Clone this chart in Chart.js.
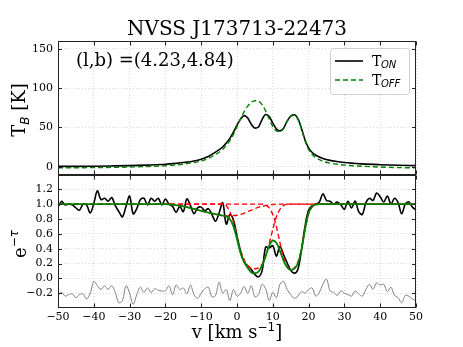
<!DOCTYPE html>
<html>
<head>
<meta charset="utf-8">
<script src="https://cdn.jsdelivr.net/npm/chart.js@4.4.0/dist/chart.umd.min.js"></script>
<style>
  html, body { margin: 0; padding: 0; background: #fff; }
  #wrap { width: 463px; height: 347px; }
</style>
</head>
<body>
<div id="wrap"><canvas id="hiChart" width="463" height="347"></canvas></div>
<script>
// --- emission panel (T_B, K) ---
const velTb = [-50, -45, -40, -35, -30, -25, -20, -17, -15, -12, -10, -8, -6, -4, -3, -2, -1, 0, 1, 2, 3, 4, 5, 6, 7, 8, 9, 10,
  11, 12, 13, 14, 15, 16, 17, 18, 19, 20, 21, 22, 24, 26, 28, 30, 35, 40, 45, 50];
const tOn = [0.3, 0.4, 0.6, 0.9, 1.3, 2.0, 3.0, 4.2, 5.2, 7.2, 9.5, 13, 18.5, 25, 30, 36, 44, 53, 60.5, 65, 62, 54, 49, 50.5, 60, 66.5, 64, 55.5,
  48, 45.5, 49, 58, 64.5, 66, 61, 49, 34, 24, 18, 14.5, 10.5, 8, 6.5, 5.2, 3.5, 2.5, 1.8, 1.3];
const tOff = [-1.5, -1.4, -1.2, -0.9, -0.5, 0.2, 1.2, 2.2, 3.2, 5.2, 7.2, 10.5, 15.5, 22, 27, 33, 41, 51, 61, 70, 77, 82, 84, 83.5, 79, 71, 60.5, 51,
  45.5, 44.5, 48.5, 57.5, 64, 65.5, 60.5, 48, 33, 22, 15.5, 11.5, 6.8, 4.5, 3, 2, 0.5, -0.5, -1.2, -1.5];

// --- absorption panel (e^-tau) ---
const velAbs = [-50, -49, -48, -47, -46, -45, -44, -43, -42, -41, -40, -39, -38, -37, -36, -35, -34, -33, -32, -31,
  -30, -29, -28, -27, -26, -25, -24, -23, -22, -21, -20, -19, -18, -17, -16, -15, -14, -13, -12, -11,
  -10, -9, -8, -7, -6, -5, -4, -3, -2, -1, 0, 1, 2, 3, 4, 5, 6, 7, 8, 9,
  10, 11, 12, 13, 14, 15, 16, 17, 18, 19, 20, 21, 22, 23, 24, 25, 26, 27, 28, 29,
  30, 31, 32, 33, 34, 35, 36, 37, 38, 39, 40, 41, 42, 43, 44, 45, 46, 47, 48, 49, 50];
const absData = [0.96, 1.04, 0.99, 1.0, 0.99, 0.95, 0.92, 1.0, 0.99, 0.88, 1.01, 1.18, 1.06, 1.08, 1.04, 1.09, 0.98, 0.9, 0.83, 0.97,
  1.11, 0.87, 0.94, 1.06, 1.08, 0.99, 1.08, 1.04, 1.08, 0.99, 1.07, 1.0, 0.97, 0.89, 0.97, 0.9, 1.07, 0.98, 0.87, 0.95,
  0.96, 0.91, 0.94, 0.86, 0.77, 0.88, 1.02, 0.73, 0.86, 0.79, 0.57, 0.36, 0.22, 0.17, 0.12, 0.05, 0.02, 0.1, 0.42, 0.41,
  0.44, 0.3, 0.43, 0.32, 0.21, 0.11, 0.07, 0.12, 0.38, 0.7, 0.92, 0.98, 1.0, 1.03, 1.14, 1.05, 1.04, 1.0, 1.03, 0.99,
  0.93, 1.04, 0.95, 1.04, 0.9, 0.86, 1.02, 1.08, 1.05, 1.15, 1.1, 1.03, 1.11, 1.0, 1.08, 1.02, 0.87, 1.0, 1.03, 0.96, 0.92];
const residual = [-0.23, -0.19, -0.24, -0.22, -0.21, -0.26, -0.22, -0.21, -0.28, -0.2, -0.04, -0.1, -0.15, -0.1, -0.15, -0.1, -0.19, -0.33, -0.3, -0.1,
  -0.2, -0.35, -0.22, -0.12, -0.19, -0.13, -0.19, -0.14, -0.16, -0.17, -0.17, -0.1, -0.22, -0.09, -0.15, -0.13, -0.21, -0.09, -0.22, -0.27,
  -0.2, -0.14, -0.12, -0.25, -0.23, -0.05, -0.2, -0.15, -0.3, -0.15, -0.24, -0.2, -0.11, -0.2, -0.1, -0.25, -0.22, -0.08, -0.14, -0.3,
  -0.19, -0.26, -0.08, -0.04, -0.15, -0.22, -0.27, -0.24, -0.18, -0.2, -0.15, -0.13, -0.24, -0.19, -0.08, -0.01, -0.17, -0.19, -0.23, -0.17,
  -0.2, -0.22, -0.24, -0.17, -0.21, -0.24, -0.15, -0.08, -0.15, -0.06, -0.09, -0.08, -0.18, -0.12, -0.23, -0.26, -0.33, -0.23, -0.24, -0.28, -0.3];

// gaussian fit and its three components
const velFit = [-50, -30, -20, -18, -16, -14, -12, -10, -8, -6, -4, -3, -2, -1, 0, 1, 2, 3, 4, 5, 6, 7, 8, 9,
  10, 11, 12, 13, 14, 15, 16, 17, 18, 19, 20, 21, 22, 23, 30, 50];
const fitTotal = [1, 1, 1, 0.995, 0.98, 0.96, 0.935, 0.91, 0.885, 0.865, 0.845, 0.835, 0.8, 0.7, 0.53, 0.34, 0.22, 0.14, 0.08, 0.07, 0.09, 0.17, 0.3, 0.44,
  0.51, 0.48, 0.37, 0.24, 0.15, 0.11, 0.13, 0.2, 0.38, 0.66, 0.88, 0.97, 0.995, 1, 1, 1];
const comp1 = [1, 1, 1, 0.995, 0.98, 0.96, 0.935, 0.91, 0.885, 0.865, 0.845, 0.84, 0.84, 0.845, 0.85, 0.86, 0.88, 0.9, 0.92, 0.94, 0.96, 0.97, 0.98, 0.99,
  0.995, 1, 1, 1, 1, 1, 1, 1, 1, 1, 1, 1, 1, 1, 1, 1];
const comp2 = [1, 1, 1, 1, 1, 1, 1, 1, 1, 1, 1, 0.98, 0.9, 0.76, 0.56, 0.38, 0.25, 0.17, 0.135, 0.13, 0.14, 0.19, 0.3, 0.47,
  0.66, 0.83, 0.93, 0.98, 1, 1, 1, 1, 1, 1, 1, 1, 1, 1, 1, 1];
const comp3 = [1, 1, 1, 1, 1, 1, 1, 1, 1, 1, 1, 1, 1, 1, 1, 1, 1, 1, 1, 1, 1, 1, 0.99, 0.95,
  0.86, 0.7, 0.48, 0.28, 0.16, 0.12, 0.14, 0.22, 0.4, 0.66, 0.87, 0.96, 0.99, 1, 1, 1];

// tick values
const xTicks = [-50, -40, -30, -20, -10, 0, 10, 20, 30, 40, 50];
const tbTicks = [0, 50, 100, 150];
const absTicks = [-0.2, 0, 0.2, 0.4, 0.6, 0.8, 1.0, 1.2];

const SERIF = "'DejaVu Serif', 'Liberation Serif', serif";
const SANS = "'DejaVu Sans', sans-serif";

function pts(xs, ys) {
  return xs.map((v, i) => ({ x: v, y: ys[i] }));
}
function minus(s) {
  return s.replace('-', '\u2212');
}

// draw a run of text pieces (for sub/superscripts), centred on x
function drawParts(ctx, parts, x, y) {
  let w = 0;
  parts.forEach(p => { ctx.font = p[1]; w += ctx.measureText(p[0]).width; });
  let cx = x - w / 2;
  parts.forEach(p => {
    ctx.font = p[1];
    ctx.fillText(p[0], cx, y + (p[2] || 0));
    cx += ctx.measureText(p[0]).width;
  });
}

const gridOpts = { color: '#cfcfcf', lineWidth: 0.8, drawTicks: false };
const tickFont = { family: SERIF, size: 11 };

const panelDecor = {
  id: 'panelDecor',
  afterDraw(chart) {
    const ctx = chart.ctx;
    const { left, right } = chart.chartArea;
    const xs = chart.scales.x;
    const panels = [chart.scales.yTb, chart.scales.yAbs];
    ctx.save();
    ctx.strokeStyle = '#222';
    ctx.lineWidth = 1;
    panels.forEach(p => {
      const top = Math.round(p.top) + 0.5, bot = Math.round(p.bottom) - 0.5;
      ctx.strokeRect(left + 0.5, top, right - left - 1, bot - top);
      ctx.beginPath();
      xTicks.forEach(v => {
        const px = Math.round(xs.getPixelForValue(v)) + 0.5;
        ctx.moveTo(px, bot); ctx.lineTo(px, bot - 4);
        ctx.moveTo(px, top); ctx.lineTo(px, top + 4);
      });
      p.ticks.forEach(t => {
        const py = Math.round(p.getPixelForValue(t.value)) + 0.5;
        ctx.moveTo(left, py); ctx.lineTo(left + 4, py);
        ctx.moveTo(right, py); ctx.lineTo(right - 4, py);
      });
      ctx.stroke();
    });

    ctx.fillStyle = '#000';
    ctx.textAlign = 'left';
    ctx.textBaseline = 'alphabetic';

    // title
    drawParts(ctx, [['NVSS J173713-22473', '20px ' + SERIF]], 237, 35);

    // position annotation
    ctx.font = '18px ' + SERIF;
    ctx.fillText('(l,b) =(4.23,4.84)', 76, 66);

    // legend
    const lx = 330, ly = 48, lw = 79, lh = 46;
    ctx.beginPath();
    ctx.roundRect(lx + 0.5, ly + 0.5, lw, lh, 3);
    ctx.fillStyle = 'rgba(255,255,255,0.85)';
    ctx.fill();
    ctx.strokeStyle = '#d0d0d0';
    ctx.stroke();
    ctx.lineWidth = 1.6;
    ctx.strokeStyle = '#000';
    ctx.beginPath(); ctx.moveTo(335, 61); ctx.lineTo(363, 61); ctx.stroke();
    ctx.strokeStyle = '#008000';
    ctx.setLineDash([5, 3]);
    ctx.beginPath(); ctx.moveTo(335, 80); ctx.lineTo(363, 80); ctx.stroke();
    ctx.setLineDash([]);
    ctx.fillStyle = '#000';
    ctx.font = '14px ' + SERIF;
    ctx.fillText('T', 372, 66);
    ctx.fillText('T', 372, 85);
    ctx.font = 'italic 10px ' + SANS;
    ctx.fillText('ON', 381, 68);
    ctx.fillText('OFF', 381, 87);

    // axis titles
    drawParts(ctx, [['v [km s', '18px ' + SERIF], ['\u22121', '12px ' + SANS, -7], [']', '18px ' + SERIF]], 237, 338);

    ctx.save();
    ctx.translate(25, 110);
    ctx.rotate(-Math.PI / 2);
    drawParts(ctx, [['T', '18px ' + SERIF], ['B', 'italic 12px ' + SANS, 4], [' [K]', '18px ' + SERIF]], 0, 0);
    ctx.restore();

    ctx.save();
    ctx.translate(26, 244);
    ctx.rotate(-Math.PI / 2);
    drawParts(ctx, [['e', '18px ' + SERIF], ['\u2212', '12px ' + SANS, -8], ['\u03c4', 'italic 12px ' + SANS, -8]], 0, 0);
    ctx.restore();

    ctx.restore();
  }
};

new Chart(document.getElementById('hiChart'), {
  type: 'line',
  data: {
    datasets: [
      { data: pts(velTb, tOn), yAxisID: 'yTb', borderColor: '#000', borderWidth: 1.6, order: 1 },
      { data: pts(velTb, tOff), yAxisID: 'yTb', borderColor: '#008000', borderWidth: 1.4, borderDash: [5, 3], order: 0 },
      { data: pts(velAbs, absData), yAxisID: 'yAbs', borderColor: '#000', borderWidth: 1.6, tension: 0.35, cubicInterpolationMode: 'default', order: 4 },
      { data: pts(velAbs, residual), yAxisID: 'yAbs', borderColor: '#808080', borderWidth: 1, tension: 0.35, cubicInterpolationMode: 'default', order: 5 },
      { data: pts(velFit, comp1), yAxisID: 'yAbs', borderColor: '#ff0000', borderWidth: 1.4, borderDash: [5, 3], order: 3 },
      { data: pts(velFit, comp2), yAxisID: 'yAbs', borderColor: '#ff0000', borderWidth: 1.4, borderDash: [5, 3], order: 3 },
      { data: pts(velFit, comp3), yAxisID: 'yAbs', borderColor: '#ff0000', borderWidth: 1.4, borderDash: [5, 3], order: 3 },
      { data: pts(velFit, fitTotal), yAxisID: 'yAbs', borderColor: '#008000', borderWidth: 1.8, order: 2 }
    ]
  },
  options: {
    responsive: false,
    animation: false,
    events: [],
    layout: { padding: { left: 0, right: 47, top: 41, bottom: 0 } },
    elements: {
      point: { radius: 0 },
      line: { fill: false, cubicInterpolationMode: 'monotone' }
    },
    plugins: {
      legend: { display: false },
      tooltip: { enabled: false },
      title: { display: false }
    },
    scales: {
      x: {
        type: 'linear', min: -50, max: 50,
        afterBuildTicks: s => { s.ticks = xTicks.map(v => ({ value: v })); },
        afterFit: s => { s.height = 39; },
        grid: gridOpts,
        border: { display: false, dash: [1, 2] },
        ticks: { font: tickFont, color: '#000', padding: 3, maxRotation: 0, autoSkip: false, callback: v => minus(String(v)) }
      },
      yTb: {
        type: 'linear', position: 'left', stack: 'panels', stackWeight: 1, weight: 2,
        min: -10, max: 160,
        afterBuildTicks: s => { s.ticks = tbTicks.map(v => ({ value: v })); },
        afterFit: s => { s.width = 58; },
        grid: gridOpts,
        border: { display: false, dash: [1, 2] },
        ticks: { font: tickFont, color: '#000', padding: 5, autoSkip: false, callback: v => String(v) }
      },
      yAbs: {
        type: 'linear', position: 'left', stack: 'panels', stackWeight: 1, weight: 1,
        min: -0.4, max: 1.4,
        afterBuildTicks: s => { s.ticks = absTicks.map(v => ({ value: v })); },
        afterFit: s => { s.width = 58; },
        grid: gridOpts,
        border: { display: false, dash: [1, 2] },
        ticks: { font: tickFont, color: '#000', padding: 5, autoSkip: false, callback: v => minus(v.toFixed(1)) }
      }
    }
  },
  plugins: [panelDecor]
});
</script>
</body>
</html>
